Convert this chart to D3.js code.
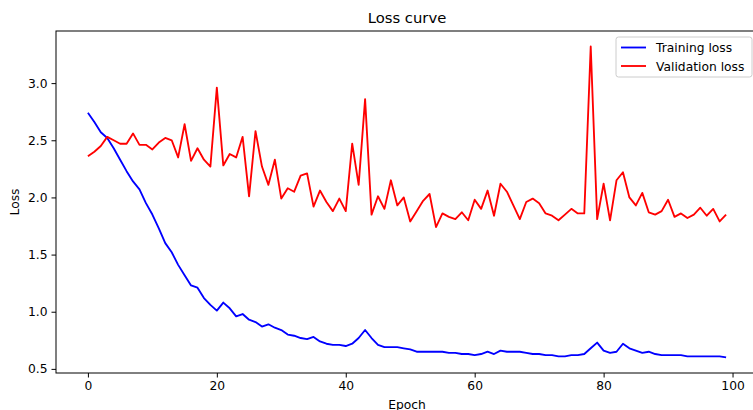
<!DOCTYPE html>
<html>
<head>
<meta charset="utf-8">
<script src="https://cdn.jsdelivr.net/npm/d3@7"></script>
<style>
  body { margin: 0; background: #fff; }
  svg { font-family: "DejaVu Sans", sans-serif; }
</style>
</head>
<body>
<div id="chart"></div>
<script>
var svgWidth = 753
var svgHeight = 410

// plot box (right spine sits just past the window edge, like the original)
var margin = { top: 31, left: 56, right: -5, bottom: 37 }
var width = svgWidth - margin.left - margin.right
var height = svgHeight - margin.top - margin.bottom

// epochs 0..99
var epochs = d3.range(0, 100)

var trainLoss = [
  2.74, 2.66, 2.57, 2.52, 2.43, 2.33, 2.23, 2.14, 2.07, 1.95,
  1.85, 1.73, 1.60, 1.52, 1.41, 1.32, 1.23, 1.21, 1.12, 1.06,
  1.01, 1.08, 1.03, 0.96, 0.98, 0.93, 0.91, 0.87, 0.89, 0.86,
  0.84, 0.80, 0.79, 0.77, 0.76, 0.78, 0.74, 0.72, 0.71, 0.71,
  0.70, 0.72, 0.77, 0.84, 0.77, 0.71, 0.69, 0.69, 0.69, 0.68,
  0.67, 0.65, 0.65, 0.65, 0.65, 0.65, 0.64, 0.64, 0.63, 0.63,
  0.62, 0.63, 0.65, 0.63, 0.66, 0.65, 0.65, 0.65, 0.64, 0.63,
  0.63, 0.62, 0.62, 0.61, 0.61, 0.62, 0.62, 0.63, 0.68, 0.73,
  0.66, 0.64, 0.65, 0.72, 0.68, 0.66, 0.64, 0.65, 0.63, 0.62,
  0.62, 0.62, 0.62, 0.61, 0.61, 0.61, 0.61, 0.61, 0.61, 0.60
]

var valLoss = [
  2.36, 2.40, 2.45, 2.53, 2.50, 2.47, 2.47, 2.56, 2.46, 2.46,
  2.42, 2.48, 2.52, 2.50, 2.35, 2.64, 2.32, 2.43, 2.33, 2.27,
  2.96, 2.28, 2.38, 2.35, 2.53, 2.01, 2.58, 2.27, 2.11, 2.33,
  1.99, 2.08, 2.05, 2.19, 2.21, 1.92, 2.06, 1.96, 1.88, 1.99,
  1.88, 2.47, 2.11, 2.86, 1.85, 2.01, 1.90, 2.15, 1.93, 2.00,
  1.79, 1.88, 1.97, 2.03, 1.74, 1.86, 1.83, 1.81, 1.87, 1.80,
  1.98, 1.90, 2.06, 1.84, 2.12, 2.05, 1.93, 1.81, 1.96, 1.99,
  1.95, 1.86, 1.84, 1.80, 1.85, 1.90, 1.86, 1.86, 3.32, 1.81,
  2.12, 1.80, 2.15, 2.22, 2.00, 1.93, 2.04, 1.87, 1.85, 1.88,
  1.98, 1.83, 1.86, 1.82, 1.85, 1.91, 1.84, 1.90, 1.79, 1.85
]

var seriesNames = ["Training loss", "Validation loss"]
var seriesColors = ["blue", "red"]
var xTicks = [0, 20, 40, 60, 80, 100]
var yTicks = [0.5, 1.0, 1.5, 2.0, 2.5, 3.0]

var svg = d3.select("#chart")
  .append("svg")
  .attr("width", svgWidth)
  .attr("height", svgHeight)

var chartGroup = svg.append("g")
  .attr("transform", `translate(${margin.left}, ${margin.top})`)

// matplotlib-style 5% margins
var xPad = (d3.max(epochs) - d3.min(epochs)) * 0.05
var allY = trainLoss.concat(valLoss)
var yPad = (d3.max(allY) - d3.min(allY)) * 0.05

var xScale = d3.scaleLinear()
  .domain([d3.min(epochs) - xPad, d3.max(epochs) + xPad])
  .range([0, width])

var yScale = d3.scaleLinear()
  .domain([d3.min(allY) - yPad, d3.max(allY) + yPad])
  .range([height, 0])

var bottomAxis = d3.axisBottom(xScale)
  .tickValues(xTicks)
  .tickFormat(d3.format("d"))
  .tickSize(4.5)
  .tickPadding(4)
  .tickSizeOuter(0)

var leftAxis = d3.axisLeft(yScale)
  .tickValues(yTicks)
  .tickFormat(d3.format(".1f"))
  .tickSize(4.5)
  .tickPadding(4)
  .tickSizeOuter(0)

var xg = chartGroup.append("g")
  .attr("transform", `translate(0, ${height})`)
  .call(bottomAxis)

var yg = chartGroup.append("g")
  .call(leftAxis)

chartGroup.selectAll(".domain").remove()
chartGroup.selectAll(".tick text")
  .attr("font-size", "12.3px")
  .attr("fill", "#000")
  .attr("font-family", "DejaVu Sans")
chartGroup.selectAll(".tick line").attr("stroke", "#000").attr("stroke-width", 1)

var line = d3.line()
  .x((d, i) => xScale(epochs[i]))
  .y(d => yScale(d))

chartGroup.append("path")
  .datum(trainLoss)
  .attr("fill", "none")
  .attr("stroke", seriesColors[0])
  .attr("stroke-width", 1.85)
  .attr("stroke-linejoin", "round")
  .attr("d", line)

chartGroup.append("path")
  .datum(valLoss)
  .attr("fill", "none")
  .attr("stroke", seriesColors[1])
  .attr("stroke-width", 1.85)
  .attr("stroke-linejoin", "round")
  .attr("d", line)

// spines
chartGroup.append("rect")
  .attr("x", 0)
  .attr("y", 0)
  .attr("width", width)
  .attr("height", height)
  .attr("fill", "none")
  .attr("stroke", "#000")
  .attr("stroke-width", 1)

// legend
var legend = chartGroup.append("g")
  .attr("transform", `translate(${width - 142}, 6)`)

legend.append("rect")
  .attr("width", 136)
  .attr("height", 40)
  .attr("rx", 2.5)
  .attr("fill", "#fff")
  .attr("fill-opacity", 0.8)
  .attr("stroke", "#ccc")
  .attr("stroke-width", 1)

seriesNames.forEach((name, i) => {
  var yy = 10.5 + i * 18.5
  legend.append("line")
    .attr("x1", 5)
    .attr("x2", 30)
    .attr("y1", yy)
    .attr("y2", yy)
    .attr("stroke", seriesColors[i])
    .attr("stroke-width", 1.85)
  legend.append("text")
    .attr("x", 40)
    .attr("y", yy + 4.5)
    .attr("font-size", "12.3px")
    .text(name)
})

// title and axis labels
svg.append("text")
  .attr("x", margin.left + width / 2)
  .attr("y", 23)
  .attr("text-anchor", "middle")
  .attr("font-size", "14.8px")
  .text("Loss curve")

svg.append("text")
  .attr("x", margin.left + width / 2)
  .attr("y", 409)
  .attr("text-anchor", "middle")
  .attr("font-size", "12.3px")
  .text("Epoch")

svg.append("text")
  .attr("transform", `translate(19, ${margin.top + height / 2}) rotate(-90)`)
  .attr("text-anchor", "middle")
  .attr("font-size", "12.3px")
  .text("Loss")
</script>
</body>
</html>
